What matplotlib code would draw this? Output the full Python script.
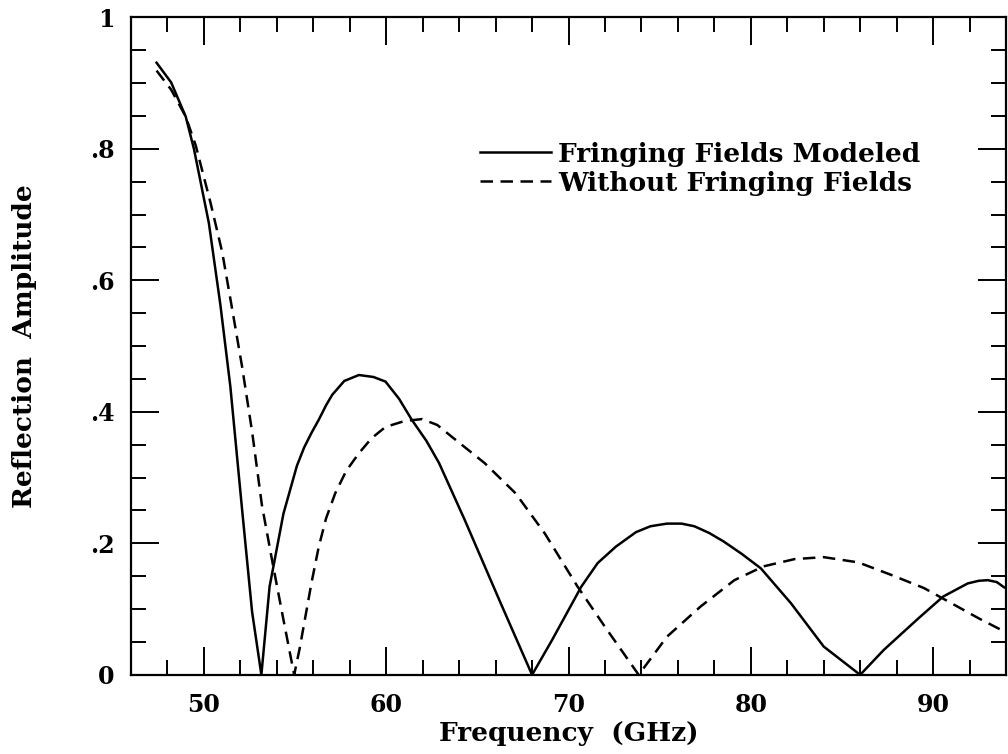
import numpy as np
import matplotlib
matplotlib.use("Agg")
from matplotlib import pyplot as plt

# values
freq_fringe = [47.4, 48.2, 49.0, 49.45, 50.27, 50.9, 51.45, 52.09, 52.64, 53.15,
               53.6, 54.36, 55.1, 55.5, 55.9, 56.3, 56.7, 57.04, 57.7, 58.5, 59.3, 59.96,
               60.7, 61.4, 62.2, 62.9, 64.3, 66.2, 68.0, 69.1, 70.7, 71.6,
               72.6, 73.7, 74.5, 75.4, 76.2, 76.9, 77.7, 78.5, 79.5, 80.55,
               82.2, 84.0, 86.0, 87.3, 89.2, 90.55, 91.9, 92.5, 93.0, 93.5, 93.9]
amp_fringe = [0.931, 0.901, 0.849, 0.800, 0.687, 0.563, 0.438, 0.252, 0.096, 0.0,
              0.134, 0.245, 0.318, 0.346, 0.368, 0.388, 0.410, 0.426, 0.447, 0.456, 0.453, 0.446,
              0.420, 0.388, 0.356, 0.322, 0.236, 0.114, 0.0, 0.053, 0.134, 0.170,
              0.195, 0.217, 0.226, 0.230, 0.230, 0.226, 0.216, 0.203, 0.184, 0.162,
              0.109, 0.043, 0.0, 0.038, 0.086, 0.119, 0.139, 0.143, 0.144, 0.141, 0.133]

freq_nofringe = [47.4, 48.2, 49.0, 49.55, 50.36, 51.0, 51.55, 52.09, 52.64, 53.18,
                 53.8, 54.36, 54.95, 55.25, 55.9, 56.3, 56.7, 57.2, 57.8, 58.5, 59.2, 59.96, 61.0,
                 61.97, 62.8, 63.6, 65.4, 67.1, 68.7, 70.5, 72.0, 73.85, 75.4, 77.25,
                 79.1, 80.7, 82.4, 84.0, 85.9, 87.7, 89.5, 91.0, 92.5, 93.9]
amp_nofringe = [0.919, 0.890, 0.849, 0.805, 0.718, 0.643, 0.556, 0.469, 0.370, 0.258,
                0.165, 0.084, 0.0, 0.040, 0.140, 0.195, 0.238, 0.276, 0.310, 0.337, 0.360, 0.377, 0.386,
                0.389, 0.380, 0.362, 0.322, 0.276, 0.215, 0.134, 0.073, 0.0, 0.058, 0.104,
                0.144, 0.165, 0.176, 0.179, 0.171, 0.152, 0.132, 0.109, 0.086, 0.066]

x_major = [50, 60, 70, 80, 90]
y_major = [0, 0.2, 0.4, 0.6, 0.8, 1.0]
y_labels = ['0', '.2', '.4', '.6', '.8', '1']

plt.rcParams['font.family'] = ['DejaVu Serif']
plt.rcParams['font.weight'] = 'bold'

fig = plt.figure(figsize=(10.08, 7.54), dpi=100)
ax = fig.add_axes([0.130, 0.105, 0.868, 0.872])

ax.plot(freq_fringe, amp_fringe, color='black', lw=1.8,
        label='Fringing Fields Modeled')
ax.plot(freq_nofringe, amp_nofringe, color='black', lw=1.8,
        linestyle=(0, (5, 3)), label='Without Fringing Fields')

ax.set_xlim(46, 94)
ax.set_ylim(0, 1)

ax.set_xticks(x_major)
ax.set_xticks(np.arange(48, 94, 2), minor=True)
ax.set_yticks(y_major)
ax.set_yticklabels(y_labels)
ax.set_yticks(np.arange(0.05, 1.0, 0.05), minor=True)

ax.tick_params(which='both', direction='in', top=True, right=True,
               width=1.4, labelsize=17)
ax.tick_params(which='major', length=20)
ax.tick_params(which='minor', length=11)
ax.tick_params(axis='x', pad=13)
ax.tick_params(axis='y', pad=12)
for s in ax.spines.values():
    s.set_linewidth(1.6)

ax.set_xlabel('Frequency  (GHz)', fontsize=19, fontweight='bold', labelpad=3)
ax.set_ylabel('Reflection  Amplitude', fontsize=19, fontweight='bold', labelpad=38)

leg = ax.legend(loc='upper left', bbox_to_anchor=(0.384, 0.831), frameon=False,
                prop={'size': 19, 'weight': 'bold'}, handlelength=2.7,
                handletextpad=0.25, labelspacing=0.15, borderpad=0)

fig.savefig('out.png', dpi=100)
